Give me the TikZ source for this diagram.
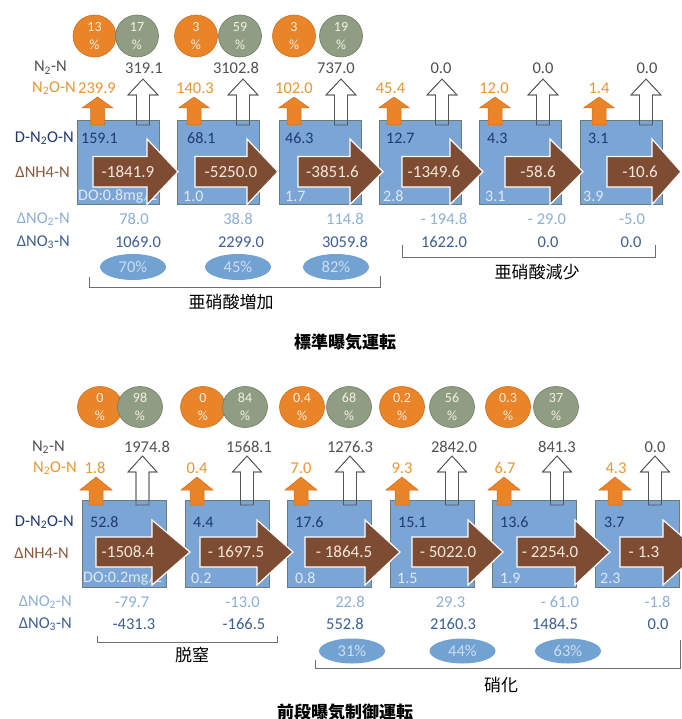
\documentclass[tikz,border=0pt]{standalone}
\usepackage{fontspec}
\setmainfont{Carlito}
\newfontfamily\cjk{Noto Sans CJK JP}
\usetikzlibrary{shapes.geometric}

\definecolor{boxblue}{RGB}{122,165,212}
\definecolor{boxborder}{RGB}{105,125,115}
\definecolor{brownfill}{RGB}{125,76,50}
\definecolor{arrowtext}{RGB}{245,232,218}
\definecolor{orangefill}{RGB}{234,132,40}
\definecolor{orangeline}{RGB}{205,112,30}
\definecolor{orangetext}{RGB}{232,150,50}
\definecolor{grayfill}{RGB}{143,158,130}
\definecolor{grayline}{RGB}{110,125,100}
\definecolor{circtext}{RGB}{245,240,228}
\definecolor{darktext}{RGB}{80,80,80}
\definecolor{navytext}{RGB}{31,56,120}
\definecolor{brownlabel}{RGB}{140,90,60}
\definecolor{lightbluetext}{RGB}{140,175,215}
\definecolor{midbluetext}{RGB}{60,95,150}
\definecolor{dotext}{RGB}{222,234,246}
\definecolor{ellfill}{RGB}{114,162,210}
\definecolor{elltext}{RGB}{205,222,242}
\definecolor{bracketline}{RGB}{110,110,110}
\definecolor{whitearrline}{RGB}{85,85,85}

\newcommand\uparrowpath[7]{\path[#1] ({#2-#7},#5) -- ({#2-#7},#4) -- ({#2-#6},#4) -- (#2,#3) -- ({#2+#6},#4) -- ({#2+#7},#4) -- ({#2+#7},#5) -- cycle;}
\newcommand\rightarrowpath[8]{\path[#1] ({#2},#5) -- ({#3},#5) -- ({#3},#7) -- ({#4},{(#5+#6)/2}) -- ({#3},#8) -- ({#3},#6) -- ({#2},#6) -- cycle;}

\tikzset{
  lbl/.style={font=\fontsize{16.5}{19}\selectfont, anchor=east, inner sep=0pt},
  val/.style={font=\fontsize{16.5}{19}\selectfont, inner sep=0pt},
  stagebox/.style={anchor=north west, draw=boxborder, fill=boxblue, line width=0.6pt, inner sep=0pt},
  whitearr/.style={fill=white, draw=whitearrline, line width=0.7pt, line join=miter},
  whiteline/.style={draw=whitearrline, line width=0.7pt},
  orangearr/.style={fill=orangefill, draw=orangeline, line width=0.5pt},
  brownarr/.style={fill=brownfill, draw=white, line width=1.2pt},
  nhtext/.style={font=\fontsize{17}{20}\selectfont, text=arrowtext, inner sep=0pt},
  dotxt/.style={font=\fontsize{16}{18}\selectfont, text=dotext, anchor=west, inner sep=0pt},
  dvals/.style={font=\fontsize{16}{19}\selectfont, inner sep=0pt, text=navytext, anchor=west},
  ocirc/.style={ellipse, fill=orangefill, draw=orangeline, line width=0.6pt, inner sep=0pt},
  gcirc/.style={ellipse, fill=grayfill, draw=grayline, line width=0.6pt, inner sep=0pt},
  ctext/.style={font=\fontsize{14}{18}\selectfont, text=circtext, align=center, inner sep=0pt},
  pell/.style={ellipse, fill=ellfill, minimum width=66pt, inner sep=0pt},
  pelltext/.style={font=\fontsize{16.5}{19}\selectfont, text=elltext, inner sep=0pt},
  bracket/.style={draw=bracketline, line width=0.8pt},
  jlabel/.style={font=\cjk\fontsize{17}{20}\selectfont, inner sep=0pt},
  jtitle/.style={font=\cjk\bfseries\fontsize{17}{20}\selectfont, inner sep=0pt},
}

\begin{document}
\begin{tikzpicture}[x=1pt,y=-1pt]
\useasboundingbox[fill=white] (0,0) rectangle (681,719);

%================ TOP PANEL =================
\foreach \i/\xo/\xg/\po/\pg in {1/94.5/137/13/17, 2/196/240/3/59, 3/294/341/3/19}{
  \node[ocirc, minimum width=43pt, minimum height=42pt] (toc\i) at (\xo,36) {};
  \node[gcirc, minimum width=43pt, minimum height=42pt] (tgc\i) at (\xg,36) {};
  \node[ctext] (toct\i) at (toc\i) {\po\\\%};
  \node[ctext] (tgct\i) at (tgc\i) {\pg\\\%};
}
\node[lbl, text=darktext] (tl1) at (67,68) {N\textsubscript{2}-N};
\node[lbl, text=orangetext] (tl2) at (76,88) {N\textsubscript{2}O-N};
\node[lbl, text=navytext] (tl3) at (74,138) {D-N\textsubscript{2}O-N};
\node[lbl, text=brownlabel] (tl4) at (70,172) {ΔNH4-N};
\node[lbl, text=lightbluetext] (tl5) at (70,219) {ΔNO\textsubscript{2}-N};
\node[lbl, text=midbluetext] (tl6) at (70,242) {ΔNO\textsubscript{3}-N};

\foreach \x in {143,243,341,442,543,646}{\uparrowpath{whitearr}{\x}{79}{95}{125}{15}{6.5}}
\foreach \i/\L in {1/77,2/177,3/279,4/379,5/479,6/580}{
  \node[stagebox, minimum width=82pt, minimum height=84pt] (tbox\i) at (\L,120) {};
}
\foreach \x in {143,243,341,442,543,646}{\uparrowpath{whiteline}{\x}{79}{95}{125}{15}{6.5}}
\foreach \x in {97.5,194,294,394,495,599}{\uparrowpath{orangearr}{\x}{97}{108}{125}{15.5}{7}}
\foreach \i/\x/\t in {1/78/{DO:0.8mg/L},2/183/1.0,3/285/1.7,4/383/2.8,5/485/3.1,6/583/3.9}{
  \node[dotxt] (tdo\i) at (\x,196) {\t};
}
\foreach \L/\bs/\hb/\tp in {77/16/70/101,177/18/70/101,279/19/71/104,379/23/71/104,479/26/71/104,580/27/72/101}{
  \rightarrowpath{brownarr}{\L+\bs}{\L+\hb}{\L+\tp}{156.5}{187}{139}{204.5}
}
\foreach \i/\x/\t in {1/128/-1841.9,2/231/-5250.0,3/332.5/-3851.6,4/434/-1349.6,5/538/-58.6,6/640/-10.6}{
  \node[nhtext] (tnh\i) at (\x,172) {\t};
}
\foreach \i/\x/\t in {1/81/159.1,2/187/68.1,3/285/46.3,4/386/12.7,5/487/4.3,6/588/3.1}{
  \node[dvals] (tdn\i) at (\x,138) {\t};
}
\foreach \i/\x/\t in {1/144/319.1,2/236/3102.8,3/336/737.0,4/441/0.0,5/543/0.0,6/647/0.0}{
  \node[val, text=darktext] (tn2\i) at (\x,68) {\t};
}
\foreach \i/\x/\t in {1/97/239.9,2/195/140.3,3/294/102.0,4/390.5/45.4,5/494/12.0,6/599/1.4}{
  \node[val, text=orangetext] (tno\i) at (\x,88) {\t};
}
\foreach \i/\x/\t in {1/134/78.0,2/238/38.8,3/345/114.8,4/444/- 194.8,5/547/- 29.0,6/632/-5.0}{
  \node[val, text=lightbluetext] (tnt\i) at (\x,219) {\t};
}
\foreach \i/\x/\t in {1/138/1069.0,2/241/2299.0,3/345/3059.8,4/444/1622.0,5/548/0.0,6/631/0.0}{
  \node[val, text=midbluetext] (tnr\i) at (\x,242) {\t};
}
\foreach \i/\x/\t in {1/133/70,2/238/45,3/336/82}{
  \node[pell, minimum height=26pt] (tel\i) at (\x,267) {};
  \node[pelltext] (telt\i) at (tel\i) {\t\%};
}
\draw[bracket] (89,277) -- (89,287) -- (380,287) -- (380,276);
\node[jlabel] (tj1) at (231,302) {亜硝酸増加};
\draw[bracket] (402,245) -- (402,257) -- (655,257) -- (655,245);
\node[jlabel] (tj2) at (537,272) {亜硝酸減少};
\node[jtitle] (ttitle) at (345,342) {標準曝気運転};

%================ BOTTOM PANEL =================
\foreach \i/\xo/\xg/\po/\pg in {1/100/140/0/98, 2/203/245/0/84, 3/302/349/0.4/68, 4/402/452/0.2/56, 5/508/556/0.3/37}{
  \node[ocirc, minimum width=45pt, minimum height=41pt] (boc\i) at (\xo,407) {};
  \node[gcirc, minimum width=45pt, minimum height=41pt] (bgc\i) at (\xg,407) {};
  \node[ctext] (boct\i) at (boc\i) {\po\\\%};
  \node[ctext] (bgct\i) at (bgc\i) {\pg\\\%};
}
\node[lbl, text=darktext] (bl1) at (65,447) {N\textsubscript{2}-N};
\node[lbl, text=orangetext] (bl2) at (77,468) {N\textsubscript{2}O-N};
\node[lbl, text=navytext] (bl3) at (74,522) {D-N\textsubscript{2}O-N};
\node[lbl, text=brownlabel] (bl4) at (69,553) {ΔNH4-N};
\node[lbl, text=lightbluetext] (bl5) at (72,602) {ΔNO\textsubscript{2}-N};
\node[lbl, text=midbluetext] (bl6) at (72,624) {ΔNO\textsubscript{3}-N};

\foreach \x in {142.5,247,350,452,557,655}{\uparrowpath{whitearr}{\x}{456}{472}{505}{14.5}{6.5}}
\foreach \i/\L in {1/82,2/185,3/287,4/390,5/492,6/595}{
  \node[stagebox, minimum width=84pt, minimum height=87pt] (bbox\i) at (\L,500) {};
}
\foreach \x in {142.5,247,350,452,557,655}{\uparrowpath{whiteline}{\x}{456}{472}{505}{14.5}{6.5}}
\foreach \x in {96,197,301,402,504,615}{\uparrowpath{orangearr}{\x}{477}{490}{505}{16}{7}}
\foreach \i/\x/\t in {1/83/{DO:0.2mg/L},2/191/0.2,3/295/0.8,4/397/1.5,5/500/1.9,6/600/2.3}{
  \node[dotxt] (bdo\i) at (\x,578) {\t};
}
\foreach \L/\bs/\hb/\tp in {82/14/70/108,185/15/72/108,287/18/78/113,390/22/78/113,492/25/83/118,595/25/68/105}{
  \rightarrowpath{brownarr}{\L+\bs}{\L+\hb}{\L+\tp}{537}{567}{520}{585}
}
\foreach \i/\x/\t in {1/128/-1508.4,2/236/- 1697.5,3/344/- 1864.5,4/448/- 5022.0,5/550/- 2254.0,6/644/- 1.3}{
  \node[nhtext] (bnh\i) at (\x,552) {\t};
}
\foreach \i/\x/\t in {1/90/52.8,2/193/4.4,3/295/17.6,4/398/15.1,5/500/13.6,6/604/3.7}{
  \node[dvals] (bdn\i) at (\x,522) {\t};
}
\foreach \i/\x/\t in {1/147/1974.8,2/249/1568.1,3/350/1276.3,4/454/2842.0,5/557/841.3,6/655/0.0}{
  \node[val, text=darktext] (bn2\i) at (\x,447) {\t};
}
\foreach \i/\x/\t in {1/95/1.8,2/197/0.4,3/301/7.0,4/402/9.3,5/505/6.7,6/616/4.3}{
  \node[val, text=orangetext] (bno\i) at (\x,468) {\t};
}
\foreach \i/\x/\t in {1/132/-79.7,2/242.5/-13.0,3/350/22.8,4/450.5/29.3,5/560/- 61.0,6/657.5/-1.8}{
  \node[val, text=lightbluetext] (bnt\i) at (\x,602) {\t};
}
\foreach \i/\x/\t in {1/134/-431.3,2/244/-166.5,3/345/552.8,4/453/2160.3,5/555/1484.5,6/658/0.0}{
  \node[val, text=midbluetext] (bnr\i) at (\x,624) {\t};
}
\foreach \i/\x/\t in {1/352/31,2/462.5/44,3/568/63}{
  \node[pell, minimum height=25pt] (bel\i) at (\x,651) {};
  \node[pelltext] (belt\i) at (bel\i) {\t\%};
}
\draw[bracket] (97,636) -- (97,642) -- (277,642) -- (277,636);
\node[jlabel] (bj1) at (192,655) {脱窒};
\draw[bracket] (315,660) -- (315,668) -- (680,668) -- (680,640);
\node[jlabel] (bj2) at (501,685) {硝化};
\node[jtitle] (btitle) at (345,712) {前段曝気制御運転};
\end{tikzpicture}
\end{document}
